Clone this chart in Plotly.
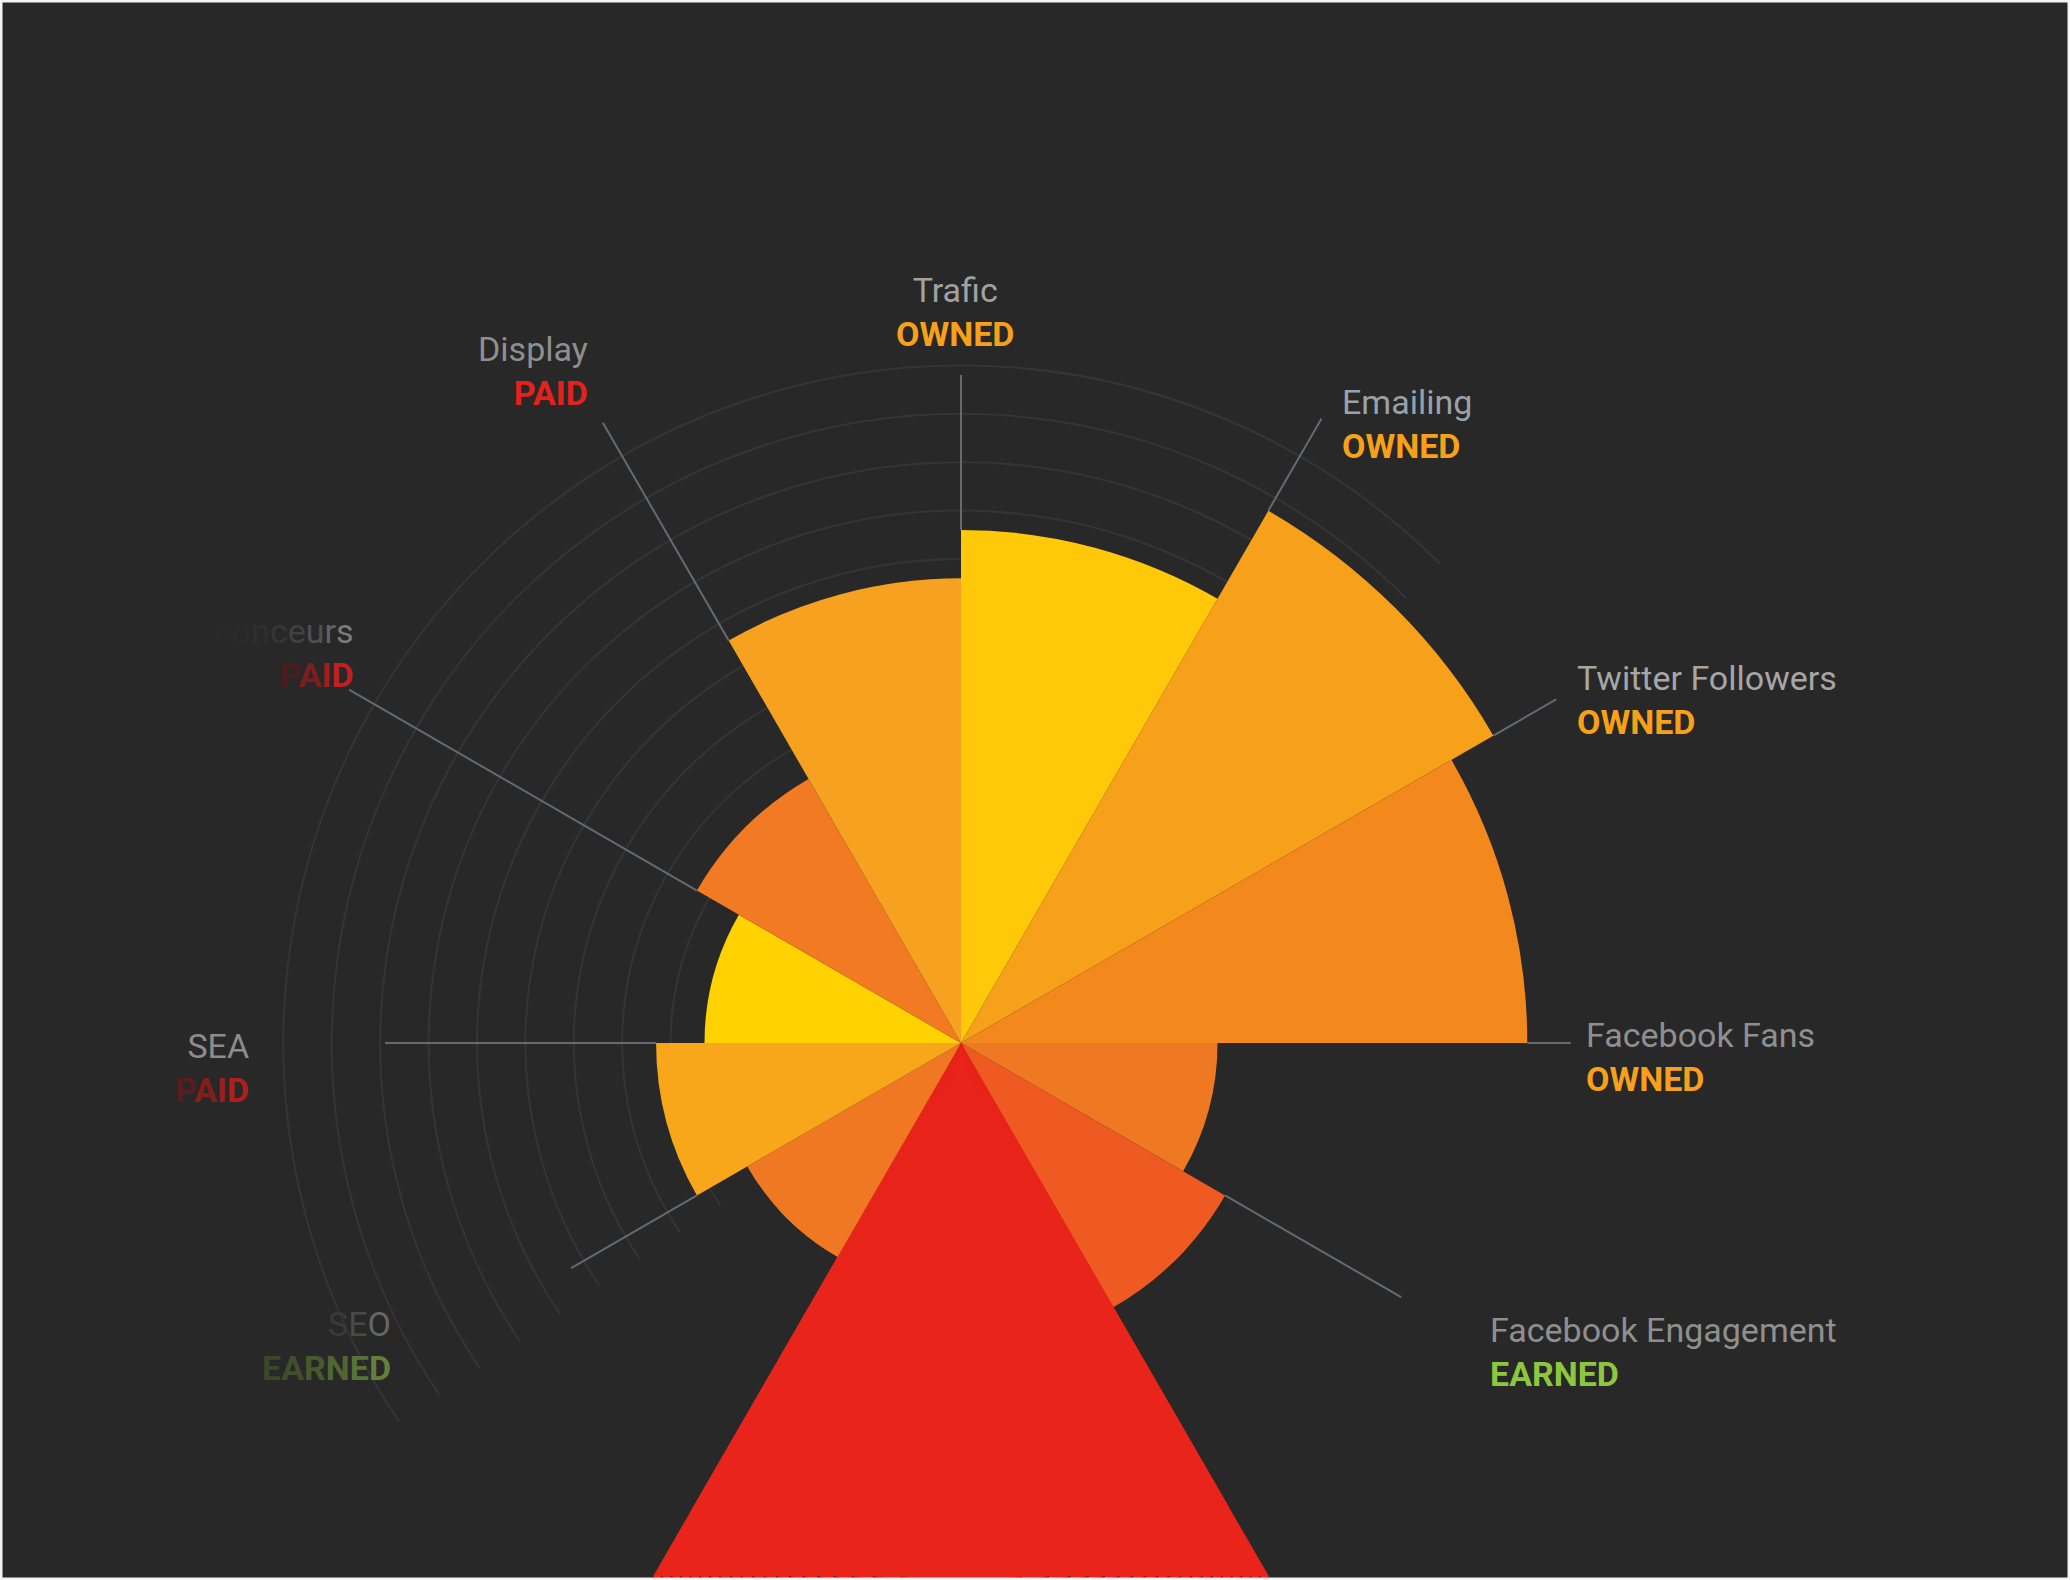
import math
import plotly.graph_objects as go

W, H = 2070, 1580

# ---------------- data ----------------
# angles are degrees clockwise from 12 o'clock; radial unit = one grid ring
sector_start = [0, 30, 60, 90, 120, 150, 210, 240, 270, 300, 330]
sector_width = [30, 30, 30, 30, 30, 60, 30, 30, 30, 30, 30]
sector_value = [10.6, 12.7, 11.7, 5.3, 6.3, 16.0, 5.1, 6.3, 5.3, 6.3, 9.6]
sector_color = ["#FFC90A", "#F7A11B", "#F3881C", "#EF7822", "#EE5A22", "#E8241B",
                "#F07822", "#F8A71B", "#FFD200", "#F27A22", "#F6A11F"]

label_name = ["Trafic", "Emailing", "Twitter Followers", "Facebook Fans",
              "Facebook Engagement", "SEO", "SEA", "Annonceurs", "Display"]
label_kind = ["OWNED", "OWNED", "OWNED", "OWNED", "EARNED", "EARNED", "PAID", "PAID", "PAID"]
label_angle = [0, 30, 60, 90, 120, 240, 270, 300, 330]

# ---------------- layout / style constants ----------------
BG = "#282828"
CX, CY = 961, 1043          # pixel position of the chart centre
PX_PER_UNIT = 48.4          # pixels per radial unit
GRID_MAX = 14               # outer grid ring
BAR_MAX = 15.5              # radial extent of the main subplot
leader_len = [13.8, 14.9, 14.2, 12.6, 10.5, 9.3, 11.9, 14.6, 14.8]
label_pos = [(955, 312, "center"), (1340, 424, "left"), (1575, 700, "left"),
             (1584, 1057, "left"), (1488, 1352, "left"), (393, 1346, "right"),
             (251, 1068, "right"), (356, 653, "right"), (590, 371, "right")]
name_col = ["#a2a2a2", "#98a2aa", "#a6a6a6", "#8f8f8f", "#8f8f8f",
            ("#3a3a3a", "#666666", 1.5), "#8c8c8c", ("#282828", "#7c7c7c", 3.0), "#8f8f8f"]
kind_col = ["#F7A11A", "#F7A11A", "#F7A11A", "#F7A11A", "#8DC63F",
            ("#3a4728", "#62803a", 1.2), ("#5a1c1c", "#B01E1E", 0.6),
            ("#4a1c1c", "#C02020", 0.8), "#E3221E"]
FONT = "Roboto"
FSIZE = 34


def hex2rgb(h):
    h = h.lstrip("#")
    return [int(h[i:i + 2], 16) for i in (0, 2, 4)]


def styled(text, col, bold=False):
    if isinstance(col, tuple):
        a, b, g = hex2rgb(col[0]), hex2rgb(col[1]), col[2]
        n = max(len(text) - 1, 1)
        parts = []
        for i, ch in enumerate(text):
            t = (i / n) ** g
            c = [round(a[k] + (b[k] - a[k]) * t) for k in range(3)]
            parts.append(f"<span style='color:rgb({c[0]},{c[1]},{c[2]})'>{ch}</span>")
        s = "".join(parts)
    else:
        s = f"<span style='color:{col}'>{text}</span>"
    return f"<b>{s}</b>" if bold else s


def edge_value(angle):
    vals = [v for s, w, v in zip(sector_start, sector_width, sector_value)
            if s % 360 == angle % 360 or (s + w) % 360 == angle % 360]
    return max(vals)


def sector_bbox(sector):
    """same bounding box plotly.js computes for a polar sector"""
    a0 = sector[0] % 360
    a1 = a0 + (sector[1] - sector[0])
    ax0, ay0 = math.cos(math.radians(a0)), math.sin(math.radians(a0))
    ax1, ay1 = math.cos(math.radians(a1)), math.sin(math.radians(a1))
    if (a0 <= 90 <= a1) or (a0 > 90 and a1 >= 450):
        y1 = 1
    elif ay0 <= 0 and ay1 <= 0:
        y1 = 0
    else:
        y1 = max(ay0, ay1)
    if (a0 <= 180 <= a1) or (a0 > 180 and a1 >= 540):
        x0 = -1
    elif ax0 >= 0 and ax1 >= 0:
        x0 = 0
    else:
        x0 = min(ax0, ax1)
    if (a0 <= 270 <= a1) or (a0 > 270 and a1 >= 630):
        y0 = -1
    elif ay0 >= 0 and ay1 >= 0:
        y0 = 0
    else:
        y0 = min(ay0, ay1)
    if a1 >= 360:
        x1 = 1
    elif ax0 <= 0 and ax1 <= 0:
        x1 = 0
    else:
        x1 = max(ax0, ax1)
    return [x0, y0, x1, y1]


def domain_for(sector, radius_px):
    x0, y0, x1, y1 = sector_bbox(sector)
    left, right = CX + x0 * radius_px, CX + x1 * radius_px
    top, bottom = CY - y1 * radius_px, CY - y0 * radius_px
    clamp = lambda v: min(max(v, 0.0), 1.0)
    return dict(x=[clamp(left / W), clamp(right / W)],
                y=[clamp(1 - bottom / H), clamp(1 - top / H)])


theta_mid = [st + w / 2 for st, w in zip(sector_start, sector_width)]
hidden_ax = dict(visible=False)

fig = go.Figure()
polars = {}


def add_bar_subplot(name, sector, radius_px):
    polars[name] = dict(
        domain=domain_for(sector, radius_px),
        sector=sector, bgcolor="rgba(0,0,0,0)",
        radialaxis=dict(range=[0, radius_px / PX_PER_UNIT], **hidden_ax),
        angularaxis=dict(direction="clockwise", rotation=90, **hidden_ax),
    )
    fig.add_trace(go.Barpolar(r=sector_value, theta=theta_mid, width=sector_width,
                              marker=dict(color=sector_color, line=dict(width=0)),
                              showlegend=False, hoverinfo="skip", subplot=name))


# ---- grid-only subplot (rings on the left / top) ----
GRID_RANGE = GRID_MAX + 0.05
grid_sector = [45, 214]
polars["polar"] = dict(
    domain=domain_for(grid_sector, GRID_RANGE * PX_PER_UNIT),
    sector=grid_sector, bgcolor="rgba(0,0,0,0)",
    radialaxis=dict(range=[0, GRID_RANGE], tickvals=list(range(1, GRID_MAX + 1)),
                    showticklabels=False, ticks="", showline=False,
                    showgrid=True, gridcolor="#353535", gridwidth=2),
    angularaxis=dict(direction="clockwise", rotation=90, showgrid=False,
                     showticklabels=False, ticks="", showline=False),
)
fig.add_trace(go.Scatterpolar(r=[0], theta=[0], mode="markers",
                              marker=dict(size=1, opacity=0), hoverinfo="skip",
                              showlegend=False, subplot="polar"))

# ---- main subplot: everything except the bottom wedge, plus leader lines ----
lr, lt = [], []
for a, L in zip(label_angle, leader_len):
    lr += [edge_value(a), L, None]
    lt += [a, a, None]
fig.add_trace(go.Scatterpolar(r=lr, theta=lt, mode="lines",
                              line=dict(color="#666a6e", width=2),
                              hoverinfo="skip", showlegend=False, subplot="polar2"))
add_bar_subplot("polar2", [-45, 225], BAR_MAX * PX_PER_UNIT)

# ---- bottom wedge: a base subplot plus thin angular slices reaching the page edge ----
low_px = H - CY
add_bar_subplot("polar3", [222, 318], low_px)

TOL = 4.0
edges = [0.0]
while edges[-1] < 30:
    pa = edges[-1]
    edges.append(math.degrees(math.acos((1 - TOL / low_px) * math.cos(math.radians(pa)))))
edges[-1] = 47.0
DELTA = 0.5
slices = [([270 - edges[1], 270 + edges[1]], low_px)]
for pa, pb in zip(edges[1:-1], edges[2:]):
    r_px = low_px / math.cos(math.radians(pa - DELTA))
    slices.append(([270 + pa - DELTA, 270 + pb], r_px))
    slices.append(([270 - pb, 270 - pa + DELTA], r_px))
for k, (sec, r_px) in enumerate(slices):
    add_bar_subplot(f"polar{k + 4}", sec, r_px)

fig.update_layout(
    width=W, height=H,
    margin=dict(l=0, r=0, t=0, b=0),
    paper_bgcolor=BG, plot_bgcolor=BG,
    showlegend=False,
    shapes=[dict(type="rect", xref="paper", yref="paper", x0=0, x1=1, y0=0, y1=1,
                 line=dict(color="#f4f4f4", width=5), layer="above")],
    **polars,
)

for name, kind, (px, py, anc), nc, kc in zip(label_name, label_kind, label_pos, name_col, kind_col):
    fig.add_annotation(
        x=px / W, y=1 - py / H, xref="paper", yref="paper",
        xanchor=anc, yanchor="middle", align=anc,
        showarrow=False,
        text=styled(name, nc) + "<br>" + styled(kind, kc, bold=True),
        font=dict(family=FONT, size=FSIZE),
    )

fig.write_html("out.html", config={"displayModeBar": False},
               post_script="document.body.style.margin='0';document.body.style.overflow='hidden';")
